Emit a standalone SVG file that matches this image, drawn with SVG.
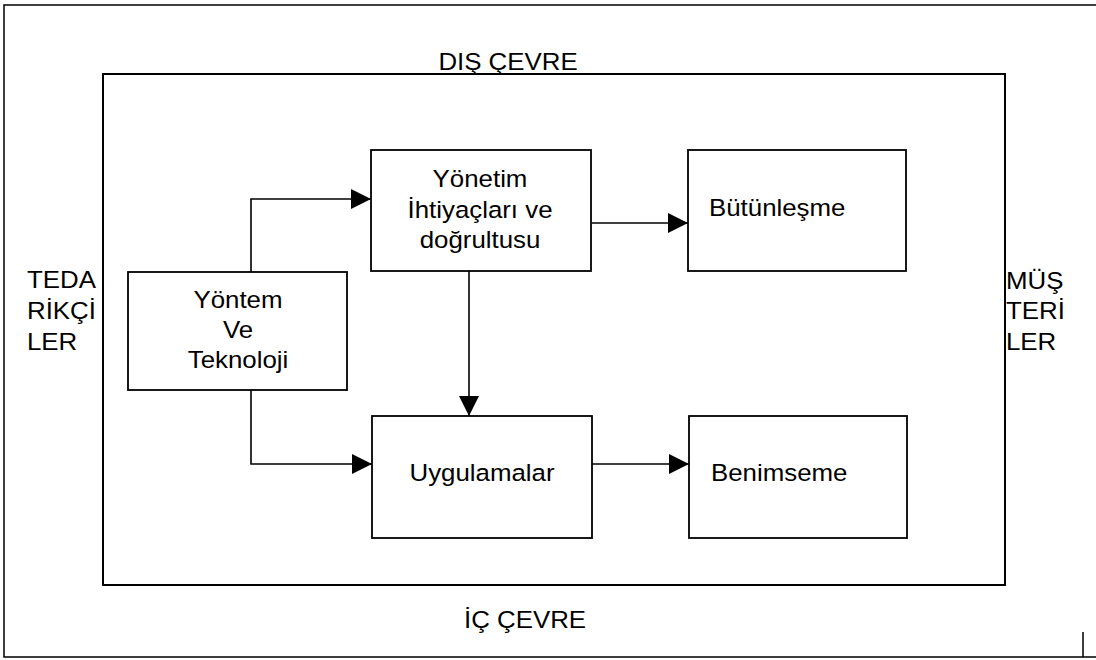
<svg xmlns="http://www.w3.org/2000/svg" width="1096" height="660" viewBox="0 0 1096 660">
  <style>
    .frame { fill: none; stroke: #000; stroke-width: 1.5; }
    .env { fill: none; stroke: #000; stroke-width: 2; }
    .box { fill: #fff; stroke: #000; stroke-width: 1.8; }
    .link { fill: none; stroke: #000; stroke-width: 1.6; }
    .lbl { font-family: "Liberation Sans", Arial, sans-serif; font-size: 23.5px; fill: #000; }
    .mid { text-anchor: middle; }
  </style>
  <defs>
    <marker id="arrow" markerUnits="userSpaceOnUse" markerWidth="20" markerHeight="20" refX="20" refY="10" orient="auto">
      <path d="M0,0 L20,10 L0,20 Z" fill="#000"/>
    </marker>
  </defs>

  <rect width="1096" height="660" fill="#fff"/>

  <!-- page frame (open on the right) -->
  <path class="frame" d="M1096,5 H4 V657 H1096 M1083,632 V657"/>

  <!-- environment -->
  <g id="environment">
    <rect class="env" x="103" y="74" width="902" height="511"/>
    <text class="lbl mid" transform="translate(508,70) scale(1.1,1)">DIŞ ÇEVRE</text>
    <text class="lbl mid" transform="translate(525,628) scale(1.1,1)">İÇ ÇEVRE</text>
  </g>

  <g id="tedarikciler">
    <text class="lbl" transform="translate(27,288) scale(1.1,1)"><tspan x="0">TEDA</tspan><tspan x="0" dy="31">RİKÇİ</tspan><tspan x="0" dy="31">LER</tspan></text>
  </g>

  <g id="musteriler">
    <text class="lbl" transform="translate(1006,289) scale(1.1,1)"><tspan x="0">MÜŞ</tspan><tspan x="0" dy="30">TERİ</tspan><tspan x="0" dy="31">LER</tspan></text>
  </g>

  <!-- connectors -->
  <g id="connectors">
    <path class="link" d="M251,272 V199 H371" marker-end="url(#arrow)"/>
    <path class="link" d="M251,390 V464 H372" marker-end="url(#arrow)"/>
    <path class="link" d="M469,271 V416" marker-end="url(#arrow)"/>
    <path class="link" d="M592,223 H688" marker-end="url(#arrow)"/>
    <path class="link" d="M592,464 H689" marker-end="url(#arrow)"/>
  </g>

  <g id="yontem">
    <rect class="box" x="128" y="272" width="219" height="118"/>
    <text class="lbl mid" transform="translate(238,308) scale(1.1,1)"><tspan x="0">Yöntem</tspan><tspan x="0" dy="30">Ve</tspan><tspan x="0" dy="30">Teknoloji</tspan></text>
  </g>

  <g id="yonetim">
    <rect class="box" x="371" y="150" width="220" height="121"/>
    <text class="lbl mid" transform="translate(480,187) scale(1.1,1)"><tspan x="0">Yönetim</tspan><tspan x="0" dy="31">İhtiyaçları ve</tspan><tspan x="0" dy="30">doğrultusu</tspan></text>
  </g>

  <g id="butunlesme">
    <rect class="box" x="688" y="150" width="218" height="121"/>
    <text class="lbl" transform="translate(709,216) scale(1.1,1)">Bütünleşme</text>
  </g>

  <g id="uygulamalar">
    <rect class="box" x="372" y="416" width="220" height="122"/>
    <text class="lbl mid" transform="translate(482,481) scale(1.1,1)">Uygulamalar</text>
  </g>

  <g id="benimseme">
    <rect class="box" x="689" y="416" width="218" height="122"/>
    <text class="lbl" transform="translate(711,481) scale(1.1,1)">Benimseme</text>
  </g>
</svg>
